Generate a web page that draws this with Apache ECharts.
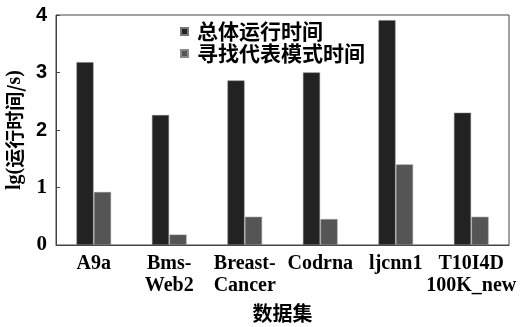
<!DOCTYPE html>
<html>
<head>
<meta charset="utf-8">
<script src="https://cdn.jsdelivr.net/npm/echarts@6/dist/echarts.min.js"></script>
<style>
  html, body { margin: 0; padding: 0; background: #fff; }
  #chart { width: 520px; height: 327px; }
</style>
</head>
<body>
<div id="chart"></div>
<script>
// Datasets and lg(run time / s) for each
const categories = ['A9a', 'Bms-\nWeb2', 'Breast-\nCancer', 'Codrna', 'ljcnn1', 'T10I4D\n100K_new'];
const totalTime = [3.18, 2.26, 2.86, 3.0, 3.91, 2.3];
const patternTime = [0.92, 0.18, 0.49, 0.45, 1.4, 0.49];
const seriesNames = ['总体运行时间', '寻找代表模式时间'];
const yTicks = [0, 1, 2, 3, 4];

const chart = echarts.init(document.getElementById('chart'));
const serif = '"Liberation Serif", "DejaVu Serif", serif';
const cjk = '"Noto Sans CJK SC", sans-serif';

chart.setOption({
  animation: false,
  grid: {
    left: 56, right: 11, top: 15, bottom: 82,
    outerBoundsMode: 'none', containLabel: false,
    show: true, borderColor: '#444', borderWidth: 1, backgroundColor: 'transparent'
  },
  legend: {
    orient: 'vertical',
    left: 175, top: 16,
    itemWidth: 7, itemHeight: 7, itemGap: 1,
    icon: 'rect',
    textStyle: { fontFamily: cjk, fontSize: 21, fontWeight: 'bold', color: '#000', padding: [0, 0, 0, 4] },
    data: seriesNames
  },
  xAxis: {
    type: 'category',
    data: categories,
    name: '数据集',
    nameLocation: 'middle',
    nameGap: 58,
    nameTextStyle: { fontFamily: cjk, fontSize: 20, fontWeight: 'bold', color: '#000' },
    axisLine: { lineStyle: { color: '#444', width: 1 } },
    axisTick: { show: false },
    axisLabel: {
      interval: 0, margin: 8,
      fontFamily: serif, fontSize: 20, fontWeight: 'bold', color: '#000', lineHeight: 22
    }
  },
  yAxis: {
    type: 'value',
    min: yTicks[0], max: yTicks[yTicks.length - 1], interval: 1,
    name: '{s|lg(}{c|运行时间/}{s|s)}',
    nameLocation: 'middle',
    nameGap: 25,
    nameRotate: 90,
    nameTextStyle: {
      color: '#000',
      rich: {
        s: { fontFamily: serif, fontSize: 20, fontWeight: 'bold', color: '#000' },
        c: { fontFamily: cjk, fontSize: 19, fontWeight: 'bold', color: '#000' }
      }
    },
    splitLine: { show: false },
    axisLine: { show: true, lineStyle: { color: '#444', width: 1 } },
    axisTick: { show: true, inside: true, length: 4, lineStyle: { color: '#444' } },
    axisLabel: {
      margin: 9,
      color: '#000',
      formatter: v => (v >= 2 ? '{a|' + v + '}' : '{b|' + v + '}'),
      rich: {
        a: { fontFamily: '"Liberation Sans", Arial, sans-serif', fontSize: 20, fontWeight: 'bold', color: '#000' },
        b: { fontFamily: serif, fontSize: 21, fontWeight: 'bold', color: '#000' }
      }
    }
  },
  series: [
    {
      name: seriesNames[0], type: 'bar', data: totalTime,
      barWidth: 17, barGap: '3%',
      itemStyle: { color: '#222222', borderColor: '#777', borderWidth: 0.5 }
    },
    {
      name: seriesNames[1], type: 'bar', data: patternTime,
      barWidth: 17,
      itemStyle: { color: '#555555', borderColor: '#888', borderWidth: 0.5 }
    }
  ]
});
</script>
</body>
</html>
